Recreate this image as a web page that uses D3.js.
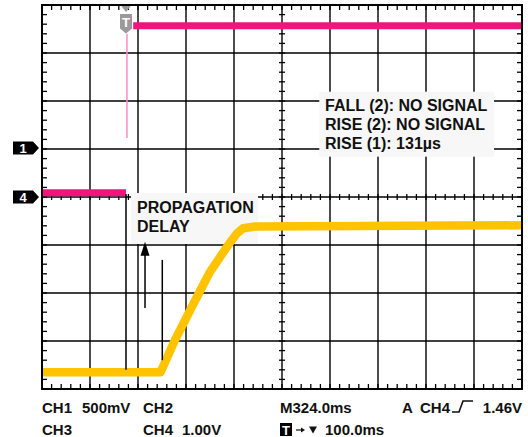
<!DOCTYPE html>
<html>
<head>
<meta charset="utf-8">
<script src="https://cdn.jsdelivr.net/npm/d3@7"></script>
<style>
  body { margin: 0; background: #fff; }
  text { font-family: "Liberation Sans", Arial, sans-serif; font-weight: bold; fill: #111; }
</style>
</head>
<body>
<svg id="scope"></svg>
<script>
// all values in screen divisions (10 x 8 grid, 0 V line in the middle)
const ch4LowT = [0, 1.75];
const ch4LowV = [0.09, 0.09];
const ch4HighT = [1.9, 10];
const ch4HighV = [3.57, 3.57];
const ch4EdgeT = [1.77, 1.77];
const ch4EdgeV = [3.4, 1.23];

const ch1T = [0, 2.47, 2.77, 3.27, 3.50, 3.88, 4.06, 4.19, 4.30, 4.44, 10];
const ch1V = [-3.65, -3.65, -2.98, -2.00, -1.56, -1.00, -0.76, -0.65, -0.635, -0.615, -0.59];

const markerNames = ["1", "4"];
const markerLevels = [1.02, 0];
const triggerT = 1.75;

const delayStartT = 1.75, delayStartV = [0.06, -3.6];
const delayEndT = 2.506, delayEndV = [-1.31, -3.4];
const arrowT = 2.146, arrowV = [-2.31, -0.93];

const delayLabel = ["PROPAGATION", "DELAY"];
const measLabel = ["FALL (2): NO SIGNAL", "RISE (2): NO SIGNAL", "RISE (1): 131\u00b5s"];

const width = 528, height = 437;
const pink = "#f0147f", yellow = "#ffc300";

const svg = d3.select("#scope")
  .attr("width", width)
  .attr("height", height);

const x = d3.scaleLinear().domain([0, 10]).range([42, 522]);
const y = d3.scaleLinear().domain([-4, 4]).range([389, 5]);

// grid
const grid = svg.append("g").attr("stroke", "#000").attr("stroke-width", 1.4);
grid.selectAll(".gx").data(d3.range(1, 10)).enter().append("line")
  .attr("x1", d => x(d)).attr("x2", d => x(d))
  .attr("y1", y(4)).attr("y2", y(-4));
grid.selectAll(".gy").data(d3.range(-3, 4)).enter().append("line")
  .attr("y1", d => y(d)).attr("y2", d => y(d))
  .attr("x1", x(0)).attr("x2", x(10));

// minor ticks on border and centre lines
const tx = d3.range(0.2, 10, 0.2), ty = d3.range(-3.8, 4, 0.2);
const ticks = svg.append("g").attr("stroke", "#000").attr("stroke-width", 1.3);
tx.forEach(t => {
  ticks.append("line").attr("x1", x(t)).attr("x2", x(t)).attr("y1", y(4)).attr("y2", y(4) + 5);
  ticks.append("line").attr("x1", x(t)).attr("x2", x(t)).attr("y1", y(-4)).attr("y2", y(-4) - 5);
  ticks.append("line").attr("x1", x(t)).attr("x2", x(t)).attr("y1", y(0) - 3).attr("y2", y(0) + 3);
});
ty.forEach(v => {
  ticks.append("line").attr("y1", y(v)).attr("y2", y(v)).attr("x1", x(0)).attr("x2", x(0) + 5);
  ticks.append("line").attr("y1", y(v)).attr("y2", y(v)).attr("x1", x(10)).attr("x2", x(10) - 5);
  ticks.append("line").attr("y1", y(v)).attr("y2", y(v)).attr("x1", x(5) - 3).attr("x2", x(5) + 3);
});

// label boxes (hide grid underneath)
svg.append("rect")
  .attr("x", x(1.854)).attr("y", y(0.083))
  .attr("width", x(4.5) - x(1.854)).attr("height", y(-0.98) - y(0.083))
  .attr("fill", "#f7f7f7");
svg.append("rect")
  .attr("x", x(5.777)).attr("y", y(2.194))
  .attr("width", x(9.417) - x(5.777)).attr("height", y(0.84) - y(2.194))
  .attr("fill", "#f7f7f7");

// traces
const line = d3.line().x(d => x(d[0])).y(d => y(d[1]));
const trace = (ts, vs, color, w) => svg.append("path")
  .attr("d", line(d3.zip(ts, vs)))
  .attr("fill", "none").attr("stroke", color)
  .attr("stroke-width", w).attr("stroke-linejoin", "round");

trace(ch4EdgeT, ch4EdgeV, "#ff8cc6", 1.5);
trace(ch4LowT, ch4LowV, pink, 7);
trace(ch4HighT, ch4HighV, pink, 7);
trace(ch1T, ch1V, yellow, 8.5);

// delay annotation
const ann = svg.append("g").attr("stroke", "#000").attr("stroke-width", 1.5);
ann.append("line").attr("x1", x(delayStartT)).attr("x2", x(delayStartT))
  .attr("y1", y(delayStartV[0])).attr("y2", y(delayStartV[1]));
ann.append("line").attr("x1", x(delayEndT)).attr("x2", x(delayEndT))
  .attr("y1", y(delayEndV[0])).attr("y2", y(delayEndV[1]));
ann.append("line").attr("x1", x(arrowT)).attr("x2", x(arrowT))
  .attr("y1", y(arrowV[0])).attr("y2", y(arrowV[1]) + 10);
const ax = x(arrowT), ay = y(arrowV[1]);
svg.append("polygon")
  .attr("points", `${ax},${ay} ${ax - 4.5},${ay + 14} ${ax + 4.5},${ay + 14}`)
  .attr("fill", "#000");

delayLabel.forEach((s, i) => {
  svg.append("text").attr("x", 137).attr("y", 213 + i * 19)
    .style("font-size", "16px").text(s);
});
measLabel.forEach((s, i) => {
  svg.append("text").attr("x", 325).attr("y", 111 + i * 19)
    .style("font-size", "16px").text(s);
});

// channel ground markers
markerNames.forEach((n, i) => {
  const cy = y(markerLevels[i]);
  svg.append("polygon")
    .attr("points", `13,${cy - 6.5} 33,${cy - 6.5} 39,${cy} 33,${cy + 6.5} 13,${cy + 6.5}`)
    .attr("fill", "#000");
  svg.append("text").attr("x", 23).attr("y", cy + 5)
    .attr("text-anchor", "middle").style("font-size", "13px")
    .style("fill", "#fff").text(n);
});

// trigger position marker
const tp = x(triggerT);
svg.append("polygon")
  .attr("points", `${tp - 5.5},${y(4)} ${tp + 5.5},${y(4)} ${tp},${y(4) + 7}`)
  .attr("fill", "#9a9a9a");
svg.append("polygon")
  .attr("points", `${tp - 6},14 ${tp + 6},14 ${tp + 6},28.5 ${tp},33.5 ${tp - 6},28.5`)
  .attr("fill", "#9a9a9a");
svg.append("text").attr("x", tp).attr("y", 27)
  .attr("text-anchor", "middle").style("font-size", "13px")
  .style("fill", "#fff").text("T");

// frame
svg.append("rect")
  .attr("x", x(0)).attr("y", y(4))
  .attr("width", x(10) - x(0)).attr("height", y(-4) - y(4))
  .attr("fill", "none").attr("stroke", "#000").attr("stroke-width", 2);

// readout
const readout = [
  ["CH1", 42, 413], ["500mV", 82, 413], ["CH2", 143, 413],
  ["M324.0ms", 280, 413], ["A", 402, 413], ["CH4", 420, 413],
  ["CH3", 42, 435], ["CH4", 143, 435], ["1.00V", 182, 435],
  ["100.0ms", 325, 435]
];
readout.forEach(r => {
  svg.append("text").attr("x", r[1]).attr("y", r[2])
    .style("font-size", "15px").text(r[0]);
});
svg.append("text").attr("x", 522).attr("y", 413)
  .attr("text-anchor", "end").style("font-size", "15px").text("1.46V");

// rising edge symbol
svg.append("path")
  .attr("d", "M452,412 H459 L463,401 H473")
  .attr("fill", "none").attr("stroke", "#111").attr("stroke-width", 1.6);

// trigger readout icons
svg.append("rect").attr("x", 280).attr("y", 423).attr("width", 12).attr("height", 13).attr("fill", "#000");
svg.append("text").attr("x", 286).attr("y", 434.5).attr("text-anchor", "middle")
  .style("font-size", "13px").style("fill", "#fff").text("T");
svg.append("path").attr("d", "M296,430 H301").attr("stroke", "#111").attr("stroke-width", 1.2);
svg.append("polygon").attr("points", "301,427.5 305,430 301,432.5").attr("fill", "#111");
svg.append("polygon").attr("points", "309,426.5 317,426.5 313,433.5").attr("fill", "#111");
</script>
</body>
</html>
